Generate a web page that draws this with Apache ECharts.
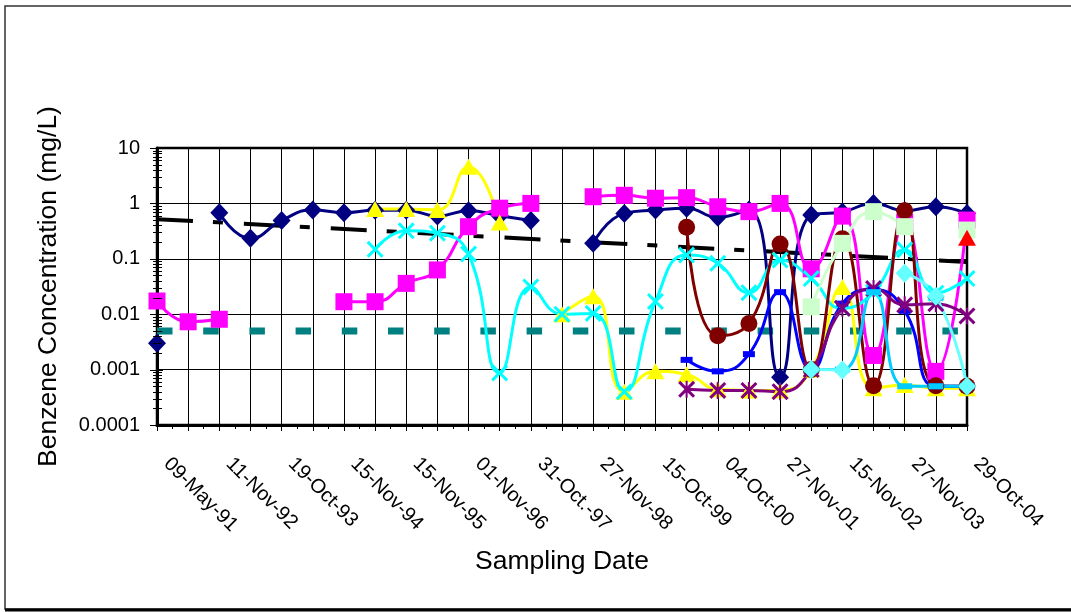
<!DOCTYPE html>
<html><head><meta charset="utf-8">
<script src="https://cdn.jsdelivr.net/npm/echarts@6/dist/echarts.min.js"></script>
<style>html,body{margin:0;padding:0;background:#fff}#c{width:1071px;height:612px}</style>
</head><body><div id="c"></div>
<script>
// x tick labels (every second sampling event is labelled)
const xLabels = ['09-May-91','11-Nov-92','19-Oct-93','15-Nov-94','15-Nov-95','01-Nov-96','31-Oct.-97','27-Nov-98','15-Oct-99','04-Oct-00','27-Nov-01','15-Nov-02','27-Nov-03','29-Oct-04'];
const yTickLabels = ['0.0001','0.001','0.01','0.1','1','10'];
const _ = null;
// series values, one per sampling event (27 events)
const navy   = [0.003,_,0.68,0.234,0.49,0.76,0.68,0.75,0.75,0.59,0.74,0.6,0.49,_,0.19,0.66,0.76,0.82,0.56,0.76,0.00073,0.62,0.7,1.0,0.74,0.87,0.66];
const pink   = [0.0173,0.0073,0.0081,_,_,_,0.0168,0.0168,0.036,0.063,0.38,0.82,1.0,_,1.32,1.4,1.24,1.27,0.87,0.71,1.0,0.066,0.59,0.0018,0.45,0.00093,0.5];
const yellow = [_,_,_,_,_,_,_,0.79,0.79,0.76,4.6,0.45,_,0.01,0.021,0.0004,0.00093,0.00082,0.00044,0.00042,0.00042,0.001,0.031,0.00046,0.00053,0.00046,0.00046];
const cyan   = [_,_,_,_,_,_,_,0.148,0.32,0.29,0.122,0.00087,0.031,0.01,0.0103,0.0004,0.017,0.117,0.083,0.0245,0.095,0.044,0.0127,0.025,0.145,0.024,0.044];
const maroon = [_,_,_,_,_,_,_,_,_,_,_,_,_,_,_,_,_,0.37,0.0041,0.0068,0.185,0.001,0.23,0.00051,0.74,0.00051,0.0005];
const blue   = [_,_,_,_,_,_,_,_,_,_,_,_,_,_,_,_,_,0.0015,0.00093,0.0019,0.025,0.001,0.0155,0.028,0.0115,0.0005,0.0005];
const purple = [_,_,_,_,_,_,_,_,_,_,_,_,_,_,_,_,_,0.00044,0.00042,0.00042,0.0004,0.001,0.0128,0.029,0.0148,0.0155,0.0093];
const green  = [_,_,_,_,_,_,_,_,_,_,_,_,_,_,_,_,_,_,_,_,_,0.0136,0.19,0.71,0.38,_,0.33];
const skyBar = [_,_,_,_,_,_,_,_,_,_,_,_,_,_,_,_,_,_,_,_,_,0.001,0.001,0.025,0.0005,0.0005,0.0005];
const ltCyan = [_,_,_,_,_,_,_,_,_,_,_,_,_,_,_,_,_,_,_,_,_,0.001,0.00098,_,0.055,0.021,0.0005];
const red    = [_,_,_,_,_,_,_,_,_,_,_,_,_,_,_,_,_,_,_,_,_,_,_,_,_,_,0.24];
const standard = [0.005,0.005];        // regulatory limit, first and last event
const trend    = [0.52,0.0875];        // trend line, first and last event
const lastIdx = 26;

const FONT = "'Liberation Sans', Arial, sans-serif";
const X_PATH = 'path://M0,2.5L2.5,0L10,7.5L17.5,0L20,2.5L12.5,10L20,17.5L17.5,20L10,12.5L2.5,20L0,17.5L7.5,10Z';
const STAR_PATH = 'path://M0,2.5L2.5,0L10,7.5L17.5,0L20,2.5L12.5,10L20,17.5L17.5,20L10,12.5L2.5,20L0,17.5L7.5,10Z M8.8,0L11.2,0L11.2,20L8.8,20Z';

function pts(a){ return a.map((v,i)=>[i, v==null ? '-' : v]); }
function ends(a){ return [[0,a[0]],[lastIdx,a[1]]]; }
function line(name, data, color, symbol, size, markColor){
  return {
    name, type:'line', data: pts(data), smooth: 0.5, connectNulls:false,
    symbol, symbolSize:size, showAllSymbol:true, animation:false,
    lineStyle:{color, width:3},
    itemStyle:{color: markColor || color, opacity:1},
    emphasis:{disabled:true}
  };
}

const yTicks = [];
for (let k=-4;k<=1;k++){ for (let m=1;m<=9;m++){ const v=m*Math.pow(10,k); if (v<=10.00001) yTicks.push([0, v, m===1?1:0]); } }

const chart = echarts.init(document.getElementById('c'), null, {renderer:'canvas'});
chart.setOption({
  animation:false,
  backgroundColor:'#fff',
  graphic:[
    {type:'rect', shape:{x:5,y:6,width:1090,height:603}, style:{fill:'none', stroke:'#333', lineWidth:1.5}, silent:true},
    {type:'line', shape:{x1:5,y1:610,x2:1071,y2:610}, style:{stroke:'#000', lineWidth:3}, silent:true}
  ],
  grid:{left:157, right:104, top:148, bottom:187, show:true, borderColor:'#000', borderWidth:2.5, backgroundColor:'transparent', outerBoundsMode:'none'},
  xAxis:{
    type:'value', min:0, max:lastIdx, interval:1,
    name:'Sampling Date', nameLocation:'middle', nameGap:123,
    nameTextStyle:{fontSize:26.5, fontFamily:FONT, color:'#000'},
    axisLine:{show:true, onZero:false, lineStyle:{color:'#000', width:3}},
    axisTick:{show:true, length:6, lineStyle:{color:'#000', width:1}},
    minorTick:{show:true, splitNumber:2, length:4, lineStyle:{color:'#000', width:1}},
    axisLabel:{rotate:-45, margin:26, padding:[0,0,0,14], fontSize:20, fontFamily:FONT, color:'#000', showMinLabel:true, showMaxLabel:true,
      formatter: v => (v%2===0 ? xLabels[v/2] : '')},
    splitLine:{show:true, lineStyle:{color:'#000', width:1}}
  },
  yAxis:{
    type:'log', logBase:10, min:0.0001, max:10,
    name:'Benzene Concentration (mg/L)', nameLocation:'middle', nameGap:95,
    nameTextStyle:{fontSize:26.5, fontFamily:FONT, color:'#000'},
    axisLine:{show:true, onZero:false, lineStyle:{color:'#000', width:3}},
    axisTick:{show:false},
    axisLabel:{fontSize:20, fontFamily:FONT, color:'#000', margin:17,
      formatter: v => yTickLabels[Math.round(Math.log10(v))+4]},
    splitLine:{show:true, lineStyle:{color:'#000', width:1}}
  },
  series:[
    {type:'custom', name:'yticks', data:yTicks, encode:{x:0,y:1}, silent:true, clip:false, z:5,
      renderItem:(params, api)=>{
        const p = api.coord([api.value(0), api.value(1)]);
        const major = api.value(2) === 1;
        return {type:'line', shape:{x1:p[0]-(major?7:4), y1:Math.round(p[1])+0.5, x2:p[0]+(major?6:5), y2:Math.round(p[1])+0.5},
          style:{stroke:'#000', lineWidth:1}};
      }},
    {type:'line', name:'Standard', data:ends(standard), symbol:'none', animation:false,
      lineStyle:{color:'#008080', width:7, type:[15.5,30.7], cap:'butt'}},
    {type:'line', name:'Trend', data:ends(trend), symbol:'none', animation:false,
      lineStyle:{color:'#000', width:4, type:[36,20,10,21], cap:'butt'}},
    line('S1', navy, '#000080', 'diamond', [18,19]),
    line('S2', pink, '#FF00FF', 'rect', 17),
    line('S3', yellow, '#FFFF00', 'triangle', [18,16]),
    line('S4', cyan, '#00FFFF', X_PATH, 17),
    line('S5', maroon, '#800000', 'circle', 17),
    line('S6', blue, '#0000FF', 'rect', [12,6]),
    line('S7', purple, '#800080', STAR_PATH, 17),
    line('S8', green, '#CCFFCC', 'rect', 17),
    line('S9', skyBar, '#00CCFF', 'rect', [15,6]),
    line('S10', ltCyan, '#66FFFF', 'diamond', [18,19]),
    line('S11', red, '#FF0000', 'triangle', [18,16])
  ]
});
</script>
</body></html>
